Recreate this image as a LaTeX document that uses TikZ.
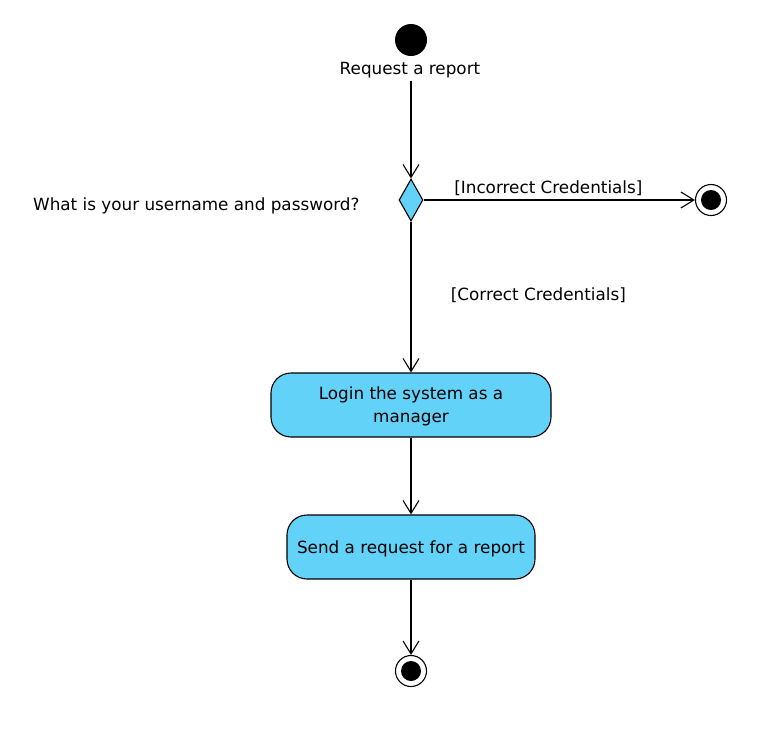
\documentclass[tikz,border=0pt]{standalone}
\usepackage{fontspec}
\setmainfont{DejaVu Sans}
\usetikzlibrary{arrows.meta, shapes.geometric}
\definecolor{actblue}{RGB}{99,210,248}

\begin{document}
\begin{tikzpicture}
  [x=1pt, y=-1pt, font=\fontsize{16.8}{23}\selectfont,
   flow/.style={-{Straight Barb[length=13pt, width=16pt]}, line width=1.1pt},
   start/.style={shape=circle, fill=black, minimum size=32pt, inner sep=0pt},
   stop/.style={shape=circle, draw=black, line width=1.1pt, fill=white, minimum size=31pt, inner sep=0pt,
     path picture={\fill[black] (path picture bounding box.center) circle (10pt);}},
   choice/.style={shape=diamond, draw=black, line width=1.1pt, fill=actblue, minimum width=24pt, minimum height=42pt, inner sep=0pt},
   activity/.style={shape=rectangle, rounded corners=20pt, draw=black, line width=1.1pt, fill=actblue, align=center, inner sep=0pt, text depth=0pt}]
  \useasboundingbox (0,0) rectangle (777,748);
  \node (init) [start] at (411, 40) {};
  \node (reqtext) at (410, 70) {Request a report};
  \node (decide) [choice] at (411, 200) {};
  \node (question) [anchor=east] at (363, 206) {What is your username and password?};
  \node (fail) [stop] at (711, 200) {};
  \node (login) [activity, minimum width=280pt, minimum height=64pt] at (411, 405) {Login the system as a\\manager};
  \node (send) [activity, minimum width=248pt, minimum height=64pt] at (411, 547) {Send a request for a report};
  \node (done) [stop] at (411, 671) {};
  \draw [flow] (reqtext.south -| decide.north) to (decide.north);
  \draw [flow] (decide.east) to node [above, pos=0.46] {[Incorrect Credentials]} (fail.west);
  \draw [flow] (decide.south) to node [right=36pt, pos=0.49] {[Correct Credentials]} (login.north);
  \draw [flow] (login.south) to (send.north);
  \draw [flow] (send.south) to (done.north);
\end{tikzpicture}
\end{document}
